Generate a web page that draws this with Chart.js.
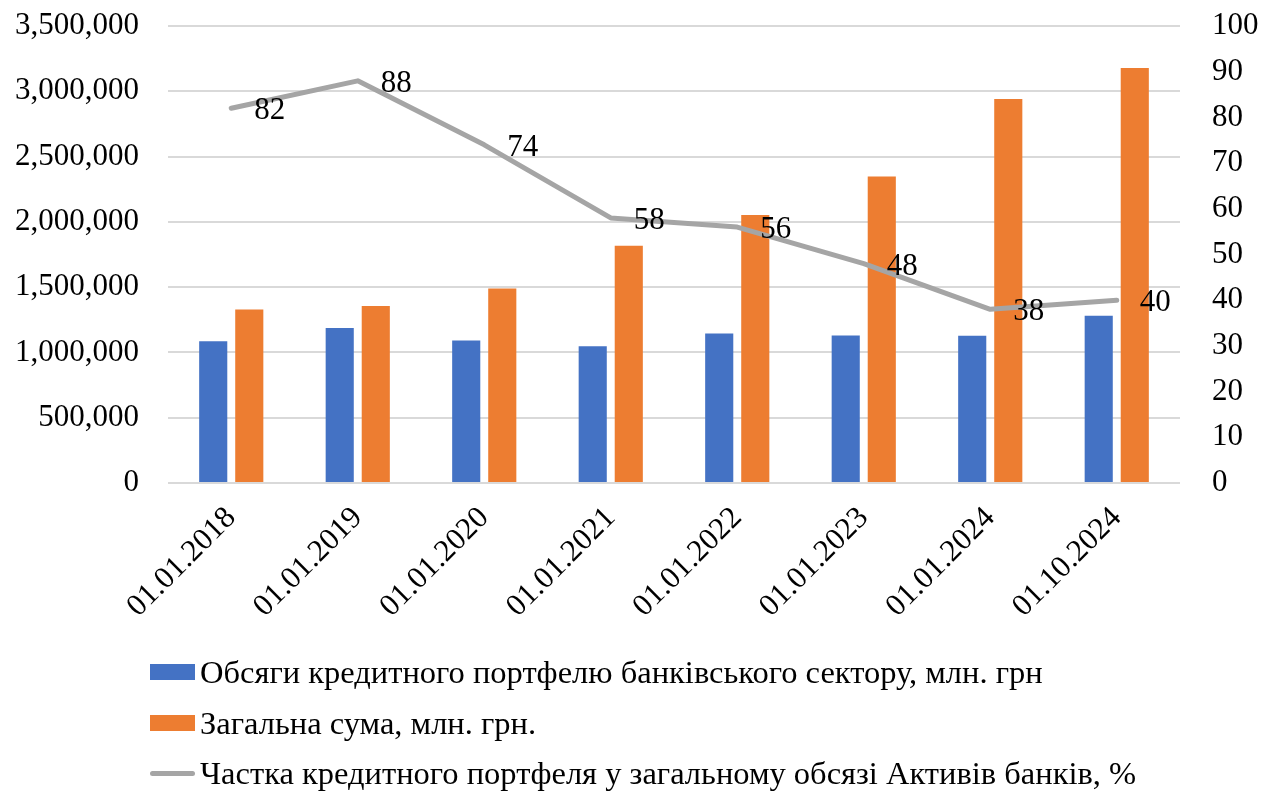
<!DOCTYPE html>
<html>
<head>
<meta charset="utf-8">
<script src="https://cdn.jsdelivr.net/npm/chart.js@4.4.1/dist/chart.umd.min.js"></script>
<style>
  html, body { margin: 0; padding: 0; background: #fff; }
  #wrap { position: relative; width: 1266px; height: 791px; overflow: hidden; }
  #c { position: absolute; left: 0; top: 0; }
  #legend {
    position: absolute; left: 150px; top: 647px;
    font-family: 'Liberation Serif', 'Times New Roman', serif;
    font-size: 32.5px; color: #000; line-height: 1;
  }
  .item { display: flex; align-items: center; height: 50.5px; white-space: nowrap; }
  .sw { width: 45px; height: 16px; margin-right: 5px; flex: none; }
  .sw.line { height: 5px; border-radius: 3px; }
</style>
</head>
<body>
<div id="wrap">
  <canvas id="c" width="1266" height="791"></canvas>
  <div id="legend"></div>
</div>
<script>
// Reporting dates
const categories = ['01.01.2018', '01.01.2019', '01.01.2020', '01.01.2021',
                    '01.01.2022', '01.01.2023', '01.01.2024', '01.10.2024'];

// Loan portfolio of the banking sector, UAH mln
const loanPortfolio = [1086000, 1188000, 1091000, 1048000, 1145000, 1130000, 1127000, 1280000];

// Total amount (bank assets), UAH mln
const totalAmount = [1329000, 1355000, 1490000, 1817000, 2053000, 2347000, 2941000, 3179000];

// Share of the loan portfolio in total bank assets, %
const loanShare = [82, 88, 74, 58, 56, 48, 38, 40];

// Axis tick values
const leftTicks = [0, 500000, 1000000, 1500000, 2000000, 2500000, 3000000, 3500000];
const rightTicks = [0, 10, 20, 30, 40, 50, 60, 70, 80, 90, 100];

const seriesNames = [
  'Обсяги кредитного портфелю банківського сектору, млн. грн',
  'Загальна сума, млн. грн.',
  'Частка кредитного портфеля у загальному обсязі Активів банків, %'
];

const FONT = "'Liberation Serif', 'Times New Roman', serif";
const TICK_SIZE = 31;
const BLUE = '#4472C4', ORANGE = '#ED7D31', GREY = '#A5A5A5';

// Value labels to the right of each point of the line series
const lineLabels = {
  id: 'lineLabels',
  afterDatasetsDraw(chart) {
    const ctx = chart.ctx;
    chart.data.datasets.forEach((ds, di) => {
      if (ds.type !== 'line') return;
      const meta = chart.getDatasetMeta(di);
      ctx.save();
      ctx.font = TICK_SIZE + 'px ' + FONT;
      ctx.fillStyle = '#000';
      ctx.textAlign = 'left';
      ctx.textBaseline = 'middle';
      meta.data.forEach((pt, i) => {
        ctx.fillText(String(ds.data[i]), pt.x + 23, pt.y + 3);
      });
      ctx.restore();
    });
  }
};

function noPad(s) { s.paddingTop = 0; s.paddingBottom = 0; s.paddingLeft = 0; s.paddingRight = 0; }

const chart = new Chart(document.getElementById('c'), {
  data: {
    labels: categories,
    datasets: [
      { type: 'line', label: seriesNames[2], data: loanShare, yAxisID: 'y2',
        borderColor: GREY, backgroundColor: GREY, borderWidth: 5,
        pointRadius: 0, tension: 0, order: 0, borderCapStyle: 'round', borderJoinStyle: 'round' },
      { type: 'bar', label: seriesNames[0], data: loanPortfolio, yAxisID: 'y',
        backgroundColor: BLUE, barPercentage: 0.78, categoryPercentage: 0.57, order: 1 },
      { type: 'bar', label: seriesNames[1], data: totalAmount, yAxisID: 'y',
        backgroundColor: ORANGE, barPercentage: 0.78, categoryPercentage: 0.57, order: 1 }
    ]
  },
  options: {
    responsive: false,
    animation: false,
    layout: { padding: { top: 26, left: 0, right: 0, bottom: 0 } },
    plugins: { legend: { display: false }, tooltip: { enabled: false } },
    scales: {
      x: {
        grid: { display: false },
        border: { display: false },
        ticks: { color: '#000', font: { family: FONT, size: TICK_SIZE }, minRotation: 45, maxRotation: 45, padding: 9 },
        afterFit(s) { s.height = 791 - 483; noPad(s); }
      },
      y: {
        position: 'left', min: 0, max: 3500000,
        afterBuildTicks(s) { s.ticks = leftTicks.map(v => ({ value: v })); },
        grid: { color: '#D9D9D9', lineWidth: 2, drawTicks: false },
        border: { display: false },
        ticks: { color: '#000', font: { family: FONT, size: TICK_SIZE }, padding: 29,
                 callback: v => Number(v).toLocaleString('en-US') },
        afterFit(s) { s.width = 168; noPad(s); }
      },
      y2: {
        position: 'right', min: 0, max: 100,
        afterBuildTicks(s) { s.ticks = rightTicks.map(v => ({ value: v })); },
        grid: { display: false, drawTicks: false },
        border: { display: false },
        ticks: { color: '#000', font: { family: FONT, size: TICK_SIZE }, padding: 32 },
        afterFit(s) { s.width = 1266 - 1180; noPad(s); }
      }
    }
  },
  plugins: [lineLabels]
});

// Legend listing the series in a single column
const legend = document.getElementById('legend');
[1, 2, 0].forEach(i => {
  const ds = chart.data.datasets[i];
  const row = document.createElement('div');
  row.className = 'item';
  const sw = document.createElement('span');
  sw.className = 'sw' + (ds.type === 'line' ? ' line' : '');
  sw.style.background = ds.type === 'line' ? ds.borderColor : ds.backgroundColor;
  const tx = document.createElement('span');
  tx.textContent = ds.label;
  row.appendChild(sw);
  row.appendChild(tx);
  legend.appendChild(row);
});
</script>
</body>
</html>
